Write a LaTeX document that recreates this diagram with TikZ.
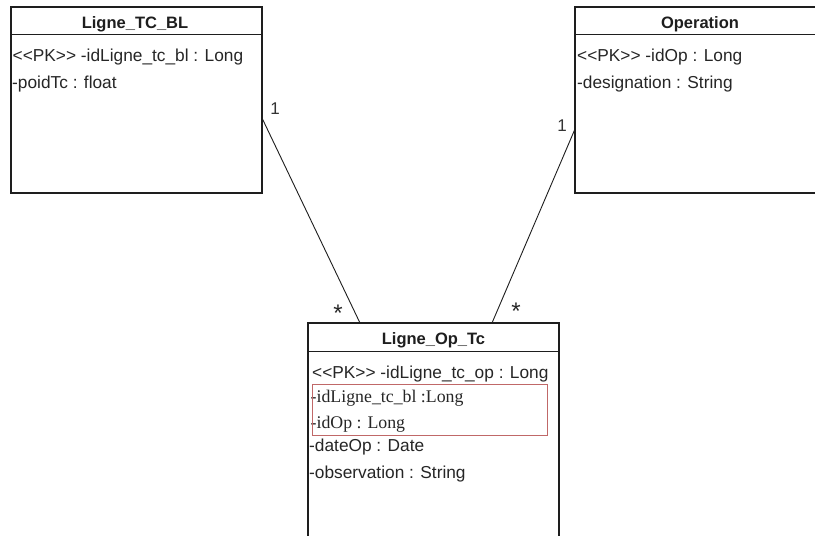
\documentclass[tikz,border=0pt]{standalone}
\usepackage{fontspec}
\setmainfont{Liberation Sans}[Ligatures=TeXOff]
\newfontfamily\serifattr{Liberation Serif}[Ligatures=TeXOff]
\usetikzlibrary{calc}

\definecolor{umlline}{HTML}{1E1E1E}
\definecolor{fkred}{HTML}{C06868}

\tikzset{
  classbox/.style={draw=umlline, line width=1.3pt, fill=white, rectangle, inner sep=0pt},
  classtitle/.style={font=\fontsize{16.5}{19}\selectfont\bfseries, text=umlline, inner sep=0pt, anchor=base},
  attr/.style={font=\fontsize{17.3}{20}\selectfont, text=black!85, inner sep=0pt, anchor=base west},
  fkattr/.style={font=\fontsize{17.8}{20}\selectfont\serifattr, text=black!85, inner sep=0pt, anchor=base west},
  fkbox/.style={draw=fkred, line width=0.9pt, rectangle, inner sep=0pt},
  assoc/.style={draw=umlline, line width=0.9pt},
  mult/.style={font=\fontsize{17}{19}\selectfont, text=black!80, inner sep=0pt},
  manymult/.style={font=\fontsize{24}{26}\selectfont, text=black!85, inner sep=0pt}
}

\begin{document}
\begin{tikzpicture}[x=1pt, y=-1pt]
  \useasboundingbox (0,0) rectangle (815,536);
  \fill[white] (0,0) rectangle (815,536);
  \clip (0,0) rectangle (815,536);

  % ---- class Ligne_TC_BL ----
  \node[classbox, minimum width=251pt, minimum height=186pt] (tcbl) at (136.5,100) {};
  \draw[umlline, line width=1.3pt] ($(tcbl.north west)+(0,28)$) -- ($(tcbl.north east)+(0,28)$);
  \node[classtitle] (tcbl-t) at (135,28) {Ligne\_TC\_BL};
  \node[attr] (tcbl-a1) at (12.5,61) {<<PK>> -idLigne\_tc\_bl : Long};
  \node[attr] (tcbl-a2) at (12,88) {-poidTc : float};

  % ---- class Operation ----
  \node[classbox, minimum width=251pt, minimum height=186pt] (op) at (700.5,100) {};
  \draw[umlline, line width=1.3pt] ($(op.north west)+(0,28)$) -- ($(op.north east)+(0,28)$);
  \node[classtitle] (op-t) at (700,28) {Operation};
  \node[attr] (op-a1) at (577,61) {<<PK>> -idOp : Long};
  \node[attr] (op-a2) at (577,88) {-designation : String};

  % ---- class Ligne_Op_Tc ----
  \node[classbox, minimum width=251pt, minimum height=240pt] (optc) at (433.5,443) {};
  \draw[umlline, line width=1.3pt] ($(optc.north west)+(0,29)$) -- ($(optc.north east)+(0,29)$);
  \node[classtitle] (optc-t) at (433.5,344.5) {Ligne\_Op\_Tc};
  \node[attr] (optc-a1) at (312,378.5) {<<PK>> -idLigne\_tc\_op : Long};
  \node[fkattr] (optc-a2) at (310.5,402) {-idLigne\_tc\_bl :Long};
  \node[fkattr] (optc-a3) at (310.5,428) {-idOp : Long};
  \node[attr] (optc-a4) at (309,451) {-dateOp : Date};
  \node[attr] (optc-a5) at (309,478) {-observation : String};

  % foreign keys framed in red
  \node[fkbox, minimum width=235pt, minimum height=51pt] (fk) at (429.5,409.5) {};

  % ---- associations ----
  \coordinate (tcbl-end) at (262,118);
  \coordinate (op-end) at (575,129);
  \coordinate (optc-l) at (360,323);
  \coordinate (optc-r) at (492,323);
  \draw[assoc] (tcbl-end) -- (optc-l);
  \draw[assoc] (op-end) -- (optc-r);

  % multiplicities
  \node[mult] (m1) at (275,109) {1};
  \node[manymult] (m2) at (338,313) {*};
  \node[mult] (m3) at (562,126) {1};
  \node[manymult] (m4) at (516,311) {*};
\end{tikzpicture}
\end{document}
